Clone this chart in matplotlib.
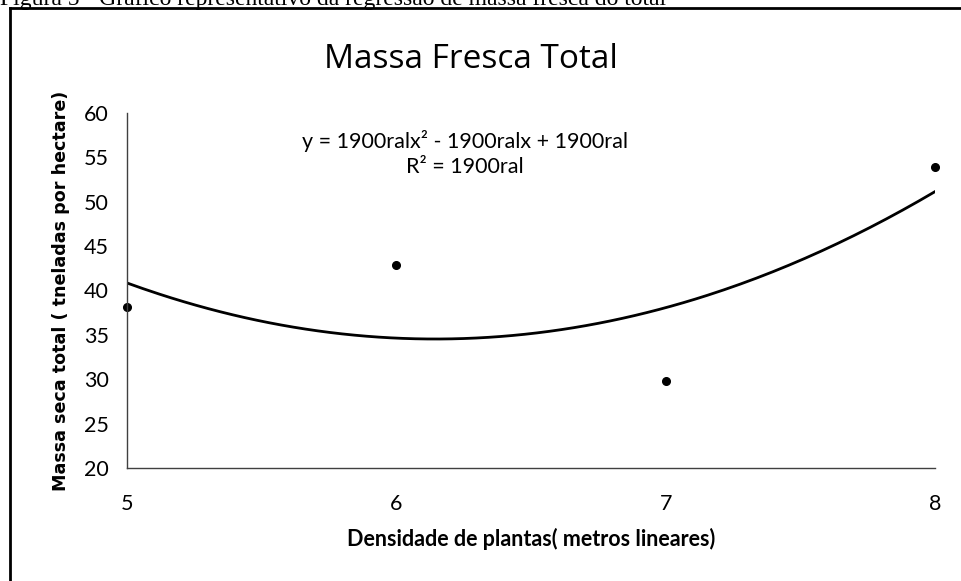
# Massa fresca total - scatter with 2nd order trendline
import numpy as np
import matplotlib.pyplot as plt
from matplotlib.lines import Line2D

densidade = [5, 6, 7, 8]
massa = [38.1, 42.9, 29.8, 53.9]
y_ticks = [20, 25, 30, 35, 40, 45, 50, 55, 60]
x_ticks = [5, 6, 7, 8]

fig = plt.figure(figsize=(9.61, 5.81), dpi=100)
ax = fig.add_axes([0.132, 0.1945, 0.841, 0.611])

# polynomial trendline (order 2) fitted to the points
coef = np.polyfit(densidade, massa, 2)
xs = np.linspace(5, 8, 200)
ax.plot(xs, np.polyval(coef, xs), color="black", lw=2)
ax.plot(densidade, massa, "o", color="black", ms=5.5, clip_on=False)

ax.set_xlim(5, 8)
ax.set_ylim(20, 60)
ax.set_xticks(x_ticks)
ax.set_yticks(y_ticks)
ax.tick_params(length=0, labelsize=15.5, pad=13)
ax.tick_params(axis="x", pad=19)
for lab in ax.get_xticklabels() + ax.get_yticklabels():
    lab.set_family("Lato")
for s in ["top", "right"]:
    ax.spines[s].set_visible(False)
for s in ["left", "bottom"]:
    ax.spines[s].set_linewidth(1)
    ax.spines[s].set_color("#404040")

ax.set_xlabel("Densidade de plantas( metros lineares)", family="Lato",
              fontweight="bold", fontsize=15.5, labelpad=10)
ax.set_ylabel("Massa seca total ( tneladas por hectare)", family="DejaVu Sans",
              fontweight="bold", fontsize=12.6, labelpad=10)

fig.text(0.49, 1 - 60 / 581, "Massa Fresca Total", family="Open Sans", fontsize=24,
         ha="center", va="center")
ax.text(0.418, 0.885, "y = 1900ralx² - 1900ralx + 1900ral\nR² = 1900ral",
        transform=ax.transAxes, ha="center", va="center", family="Lato",
        fontsize=15.5, linespacing=1.3)

# caption cut at the top and outer frame
fig.text(0.0, 1 - 5 / 581, "Figura 5 - Gráfico representativo da regressão de massa fresca do total",
         family="Liberation Serif", fontsize=17, va="baseline")
fig.add_artist(Line2D([10 / 961, 10 / 961], [0, 1 - 8 / 581], color="black", lw=2))
fig.add_artist(Line2D([10 / 961, 1], [1 - 8 / 581, 1 - 8 / 581], color="black", lw=2))

fig.savefig("out.png", dpi=100)
